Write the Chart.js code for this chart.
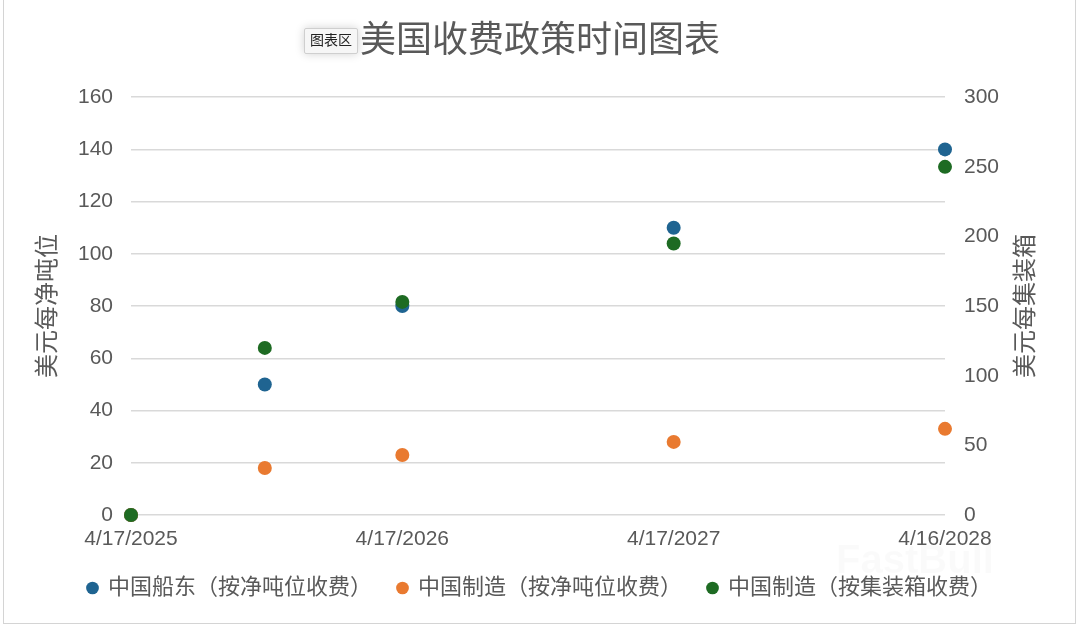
<!DOCTYPE html>
<html lang="zh-CN">
<head>
<meta charset="utf-8">
<title>美国收费政策时间图表</title>
<script src="https://cdn.jsdelivr.net/npm/chart.js@4.4.1/dist/chart.umd.min.js"></script>
<style>
  html, body { margin: 0; padding: 0; background: #fff; }
  .wrap { position: relative; width: 1080px; height: 627px; overflow: hidden; }
  .frame { position: absolute; left: 3px; top: -2px; width: 1073px; height: 626px; border: 1px solid #d4d4d4; box-sizing: border-box; pointer-events: none; }
  .tag { position: absolute; left: 304px; top: 28px; height: 24px; line-height: 24px; padding: 0 5px; font: 14px 'Noto Sans CJK SC', sans-serif; color: #222; background: #f6f6f6; border: 1px solid #cfcfcf; border-radius: 2px; box-shadow: 0 0 10px rgba(0,0,0,0.18); }
</style>
</head>
<body>
<div class="wrap">
  <canvas id="feeChart" width="1080" height="627"></canvas>
  <div class="frame"></div>
  <div class="tag">图表区</div>
</div>
<script>
/* ── data ───────────────────────────────────────────── */
const feeDates = ['2025-04-17', '2025-10-14', '2026-04-17', '2027-04-17', '2028-04-16'];
const ownerPerTon = [0, 50, 80, 110, 140];        // 中国船东（按净吨位收费）
const builtPerTon = [0, 18, 23, 28, 33];          // 中国制造（按净吨位收费）
const builtPerContainer = [0, 120, 153, 195, 250]; // 中国制造（按集装箱收费）
const xTickDates = ['2025-04-17', '2026-04-17', '2027-04-17', '2028-04-16'];
const xTickLabels = ['4/17/2025', '4/17/2026', '4/17/2027', '4/16/2028'];
const seriesNames = ['中国船东（按净吨位收费）', '中国制造（按净吨位收费）', '中国制造（按集装箱收费）'];

const COLORS = ['#1f6491', '#e97a30', '#1e6b23'];
const TEXT = '#595959';
const FONT = "'Liberation Sans', 'Noto Sans CJK SC', sans-serif";

// days since first date, so x can stay on a plain linear scale
const DAY = 86400000;
const t0 = Date.parse(feeDates[0]);
const toDay = d => Math.round((Date.parse(d) - t0) / DAY);
const xDays = feeDates.map(toDay);
const tickDays = xTickDates.map(toDay);

const pts = vals => vals.map((v, i) => ({ x: xDays[i], y: v }));

const extras = {
  id: 'extras',
  afterDraw(chart) {
    const { ctx, chartArea } = chart;
    // right axis title reads bottom-to-top like the left one
    ctx.save();
    ctx.translate(1024, (chartArea.top + chartArea.bottom) / 2);
    ctx.rotate(-Math.PI / 2);
    ctx.font = "24px 'Noto Sans CJK SC', sans-serif";
    ctx.fillStyle = TEXT;
    ctx.textAlign = 'center';
    ctx.textBaseline = 'middle';
    ctx.fillText('美元每集装箱', 0, 0);
    ctx.restore();
    // faint watermark
    ctx.save();
    ctx.font = "bold 40px 'Liberation Sans', sans-serif";
    ctx.fillStyle = 'rgba(0,0,0,0.02)';
    ctx.textAlign = 'center';
    ctx.textBaseline = 'middle';
    ctx.fillText('FastBull', 915, 562);
    ctx.restore();
  }
};

new Chart(document.getElementById('feeChart'), {
  type: 'scatter',
  data: {
    datasets: [
      { label: seriesNames[0], data: pts(ownerPerTon), yAxisID: 'y', backgroundColor: COLORS[0], borderColor: COLORS[0], order: 2, clip: false },
      { label: seriesNames[1], data: pts(builtPerTon), yAxisID: 'y', backgroundColor: COLORS[1], borderColor: COLORS[1], order: 1, clip: false },
      { label: seriesNames[2], data: pts(builtPerContainer), yAxisID: 'y2', backgroundColor: COLORS[2], borderColor: COLORS[2], order: 0, clip: false },
    ]
  },
  options: {
    responsive: false,
    animation: false,
    elements: { point: { radius: 7, hoverRadius: 7, borderWidth: 0 } },
    layout: { padding: { left: 8, right: 8, top: 0, bottom: 18 } },
    plugins: {
      title: {
        display: true,
        text: '美国收费政策时间图表',
        color: TEXT,
        font: { size: 36, weight: 'normal', family: FONT },
        padding: { top: 20, bottom: 34 }
      },
      legend: {
        position: 'bottom',
        labels: {
          usePointStyle: true, pointStyle: 'circle',
          boxWidth: 9, boxHeight: 9, padding: 26,
          color: TEXT, font: { size: 22, family: FONT },
          sort: (a, b) => a.datasetIndex - b.datasetIndex
        }
      },
      tooltip: { enabled: false }
    },
    scales: {
      x: {
        type: 'linear',
        min: tickDays[0], max: tickDays[tickDays.length - 1],
        afterBuildTicks: s => { s.ticks = tickDays.map(v => ({ value: v })); },
        afterFit: s => { s.height = 36; },
        ticks: {
          autoSkip: false, maxRotation: 0, padding: 14,
          color: TEXT, font: { size: 21, family: FONT, lineHeight: 1 },
          callback: (v, i) => xTickLabels[i]
        },
        grid: { display: false, drawTicks: false },
        border: { display: false }
      },
      y: {
        position: 'left',
        min: 0, max: 160,
        afterFit: s => { s.width = 123; },
        ticks: { stepSize: 20, padding: 18, color: TEXT, font: { size: 21, family: FONT } },
        grid: { color: '#d9d9d9', lineWidth: 1.5, drawTicks: false },
        border: { display: false },
        title: {
          display: true, text: '美元每净吨位', color: TEXT,
          font: { size: 24, family: FONT }, padding: { top: 26, bottom: 0 }
        }
      },
      y2: {
        position: 'right',
        min: 0, max: 300,
        afterFit: s => { s.width = 127; },
        ticks: { stepSize: 50, padding: 19, color: TEXT, font: { size: 21, family: FONT } },
        grid: { display: false, drawTicks: false },
        border: { display: false }
      }
    }
  },
  plugins: [extras]
});
</script>
</body>
</html>
